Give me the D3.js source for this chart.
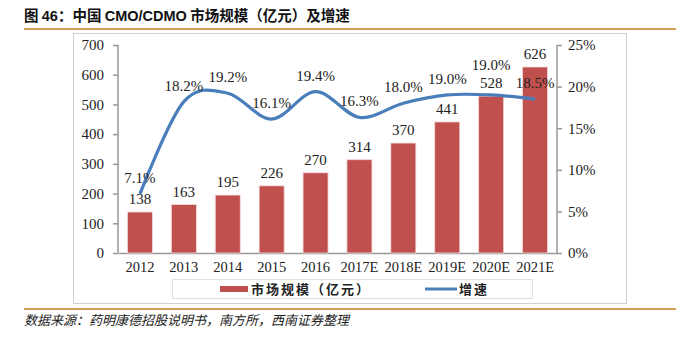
<!DOCTYPE html>
<meta charset="utf-8">
<script src="https://d3js.org/d3.v7.min.js"></script>
<style>
  body { margin: 0; background: #fff; }
  svg text { font-family: "Liberation Serif", "Noto Sans CJK SC", serif; }
  .cjk { font-family: "Noto Sans CJK SC", sans-serif; }
</style>
<div id="chart"></div>
<script>
  // data
  var years = ["2012", "2013", "2014", "2015", "2016", "2017E", "2018E", "2019E", "2020E", "2021E"];
  var marketSize = [138, 163, 195, 226, 270, 314, 370, 441, 528, 626];
  var growth = [7.1, 18.2, 19.2, 16.1, 19.4, 16.3, 18.0, 19.0, 19.0, 18.5];
  var leftTicks = [0, 100, 200, 300, 400, 500, 600, 700];
  var rightTicks = [0, 5, 10, 15, 20, 25];

  var W = 680, H = 338;
  var plot = { left: 118, right: 557, top: 45, bottom: 253 };

  var svg = d3.select("#chart").append("svg")
    .attr("width", W).attr("height", H);

  // title + rules
  var title = svg.append("text").attr("x", 24).attr("y", 21)
    .attr("class", "cjk").style("font-size", "14.5px").attr("fill", "#111");
  title.append("tspan").style("font-weight", "bold").text("图 ");
  title.append("tspan").style("font-weight", "bold").style("font-family", "Liberation Sans").text("46");
  title.append("tspan").style("font-weight", "bold").text("：中国 ");
  title.append("tspan").style("font-weight", "bold").style("font-family", "Liberation Sans").text("CMO/CDMO");
  title.append("tspan").style("font-weight", "bold").text(" 市场规模（亿元）及增速");

  svg.append("line").attr("x1", 24).attr("x2", 676).attr("y1", 29).attr("y2", 29)
    .attr("stroke", "#D4A055").attr("stroke-width", 2);
  svg.append("line").attr("x1", 24).attr("x2", 676).attr("y1", 309).attr("y2", 309)
    .attr("stroke", "#D4A055").attr("stroke-width", 2);

  // chart frame
  svg.append("rect").attr("x", 73.5).attr("y", 33.5).attr("width", 553).attr("height", 270)
    .attr("fill", "none").attr("stroke", "#d0d0d0");

  var x = d3.scaleBand().domain(years).range([plot.left, plot.right]).paddingInner(0.43).paddingOuter(0.215);
  var y = d3.scaleLinear().domain([0, 700]).range([plot.bottom, plot.top]);
  var y2 = d3.scaleLinear().domain([0, 25]).range([plot.bottom, plot.top]);

  // axes
  var axisL = svg.append("g").attr("transform", "translate(" + plot.left + ",0)")
    .call(d3.axisLeft(y).tickValues(leftTicks).tickSize(5).tickPadding(9));
  var axisR = svg.append("g").attr("transform", "translate(" + plot.right + ",0)")
    .call(d3.axisRight(y2).tickValues(rightTicks).tickSize(5).tickPadding(6).tickFormat(function (d) { return d + "%"; }));
  var axisB = svg.append("g").attr("transform", "translate(0," + plot.bottom + ")")
    .call(d3.axisBottom(x).tickSize(0).tickPadding(9));
  [axisL, axisR, axisB].forEach(function (a) {
    a.select(".domain").attr("stroke", "#999").attr("stroke-width", 1.5);
    a.selectAll(".tick line").attr("stroke", "#999").attr("stroke-width", 1.5);
    a.selectAll("text").attr("fill", "#222").style("font-size", "15px")
      .style("font-family", "Liberation Serif");
  });
  axisB.selectAll("text").style("font-size", "14.5px");
  axisL.select(".domain").attr("d", "M0," + plot.top + "V" + plot.bottom);
  axisR.select(".domain").attr("d", "M0," + plot.top + "V" + plot.bottom);

  // bars
  svg.append("g").selectAll("rect").data(marketSize).enter().append("rect")
    .attr("x", function (d, i) { return x(years[i]); })
    .attr("y", function (d) { return y(d); })
    .attr("width", x.bandwidth())
    .attr("height", function (d) { return plot.bottom - y(d); })
    .attr("fill", "#C0504D").attr("stroke", "#f3d9d8").attr("stroke-width", 0.8);

  svg.append("g").selectAll("text").data(marketSize).enter().append("text")
    .attr("x", function (d, i) { return x(years[i]) + x.bandwidth() / 2; })
    .attr("y", function (d) { return y(d) - 8; })
    .attr("text-anchor", "middle").style("font-size", "15px").attr("fill", "#222")
    .text(function (d) { return d; });

  // growth line
  var cx = function (i) { return x(years[i]) + x.bandwidth() / 2; };
  var line = d3.line()
    .x(function (d, i) { return cx(i); })
    .y(function (d) { return y2(d); })
    .curve(d3.curveCatmullRom.alpha(0));
  svg.append("path").datum(growth).attr("d", line)
    .attr("fill", "none").attr("stroke", "#4A7EBB").attr("stroke-width", 3.2);

  svg.append("g").selectAll("text").data(growth).enter().append("text")
    .attr("x", function (d, i) { return cx(i); })
    .attr("y", function (d, i) { return y2(d) - (i === 8 ? 25 : 11); })
    .attr("text-anchor", "middle").style("font-size", "15px").attr("fill", "#222")
    .text(function (d) { return d.toFixed(1) + "%"; });

  // legend
  svg.append("rect").attr("x", 172.5).attr("y", 279.5).attr("width", 360).attr("height", 19)
    .attr("fill", "#fff").attr("stroke", "#e0e0e0");
  svg.append("rect").attr("x", 220).attr("y", 286).attr("width", 28).attr("height", 6).attr("fill", "#C0504D");
  svg.append("text").attr("class", "cjk").attr("x", 251).attr("y", 294)
    .style("font-size", "13px").style("letter-spacing", "2px").style("font-weight", "bold")
    .attr("fill", "#222").text("市场规模（亿元）");
  svg.append("line").attr("x1", 425).attr("x2", 457).attr("y1", 289).attr("y2", 289)
    .attr("stroke", "#4A7EBB").attr("stroke-width", 3);
  svg.append("text").attr("class", "cjk").attr("x", 459).attr("y", 294)
    .style("font-size", "13px").style("letter-spacing", "2px").style("font-weight", "bold")
    .attr("fill", "#222").text("增速");

  // source
  svg.append("text").attr("class", "cjk").attr("x", 24).attr("y", 325)
    .style("font-size", "13px").style("font-style", "italic").attr("fill", "#222")
    .text("数据来源：药明康德招股说明书，南方所，西南证券整理");
</script>
